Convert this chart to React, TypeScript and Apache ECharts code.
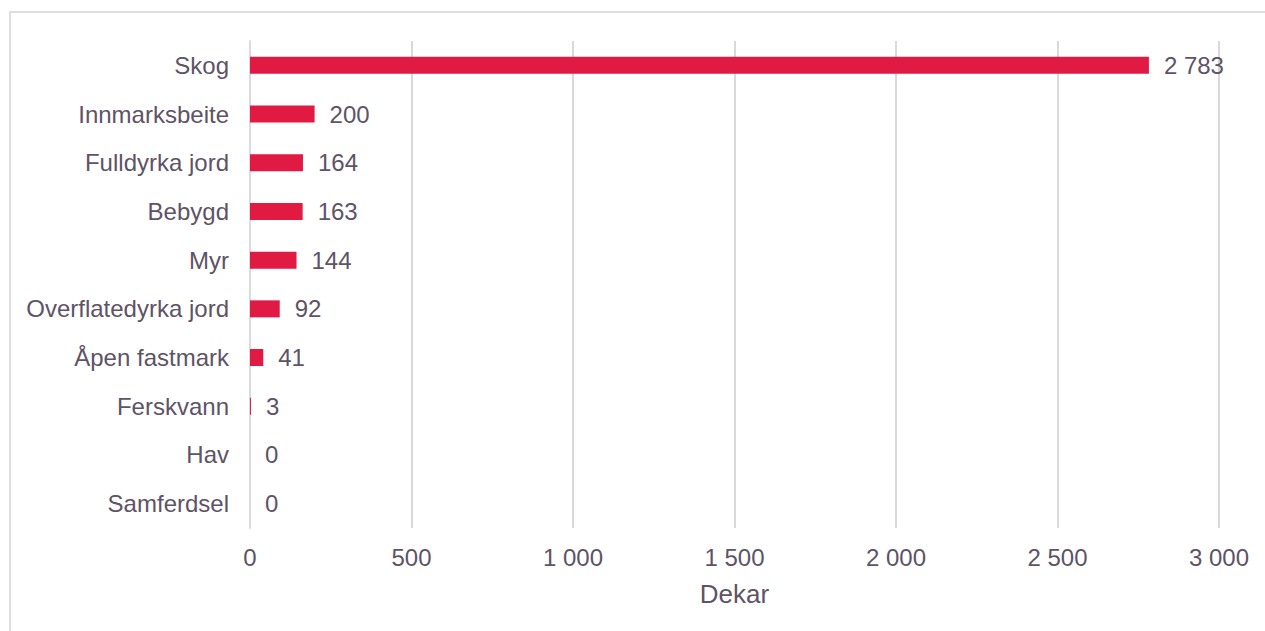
import React, { useEffect, useRef } from "react";
import * as echarts from "echarts";

const categories = [
  "Skog",
  "Innmarksbeite",
  "Fulldyrka jord",
  "Bebygd",
  "Myr",
  "Overflatedyrka jord",
  "Åpen fastmark",
  "Ferskvann",
  "Hav",
  "Samferdsel",
];
const values = [2783, 200, 164, 163, 144, 92, 41, 3, 0, 0];
const xTicks = [0, 500, 1000, 1500, 2000, 2500, 3000];
const axisTitle = "Dekar";

const TEXT = "#5e5367";
const FONT = "'Liberation Sans', Arial, sans-serif";

function fmt(v: number): string {
  return String(Math.round(v)).replace(/\B(?=(\d{3})+(?!\d))/g, " ");
}

export default function App() {
  const ref = useRef<HTMLDivElement>(null);
  useEffect(() => {
    if (!ref.current) return;
    const chart = echarts.init(ref.current, undefined, { renderer: "svg" });
    chart.setOption({
      animation: false,
      backgroundColor: "#ffffff",
      textStyle: { fontFamily: FONT },
      graphic: [
        {
          type: "rect",
          shape: { x: 10, y: 12, width: 1400, height: 800 },
          style: { fill: "none", stroke: "#dedede", lineWidth: 2 },
          silent: true,
        },
      ],
      grid: { left: 250, right: 46, top: 41, bottom: 103, containLabel: false },
      xAxis: {
        type: "value",
        min: xTicks[0],
        max: xTicks[xTicks.length - 1],
        interval: 500,
        name: axisTitle,
        nameLocation: "middle",
        nameGap: 53,
        nameTextStyle: { color: TEXT, fontSize: 26, fontFamily: FONT },
        axisLine: { show: false },
        axisTick: { show: false },
        axisLabel: {
          color: TEXT,
          fontSize: 24,
          fontFamily: FONT,
          margin: 17,
          formatter: (v: number) => fmt(v),
        },
        splitLine: { show: true, lineStyle: { color: "#d9d9d9", width: 2 } },
      },
      yAxis: {
        type: "category",
        data: categories,
        inverse: true,
        axisLine: { show: true, lineStyle: { color: "#dcdadf", width: 2 } },
        axisTick: { show: false },
        axisLabel: { color: TEXT, fontSize: 24, fontFamily: FONT, margin: 21 },
      },
      series: [
        {
          type: "bar",
          data: values,
          barWidth: 17,
          itemStyle: { color: "#e01a42" },
          label: {
            show: true,
            position: "right",
            distance: 15,
            color: TEXT,
            fontSize: 24,
            fontFamily: FONT,
            formatter: (p: any) => fmt(p.value),
          },
        },
      ],
    });
    return () => chart.dispose();
  }, []);
  return (
    <div
      ref={ref}
      style={{ position: "fixed", left: 0, top: 0, width: 1265, height: 631 }}
    />
  );
}
